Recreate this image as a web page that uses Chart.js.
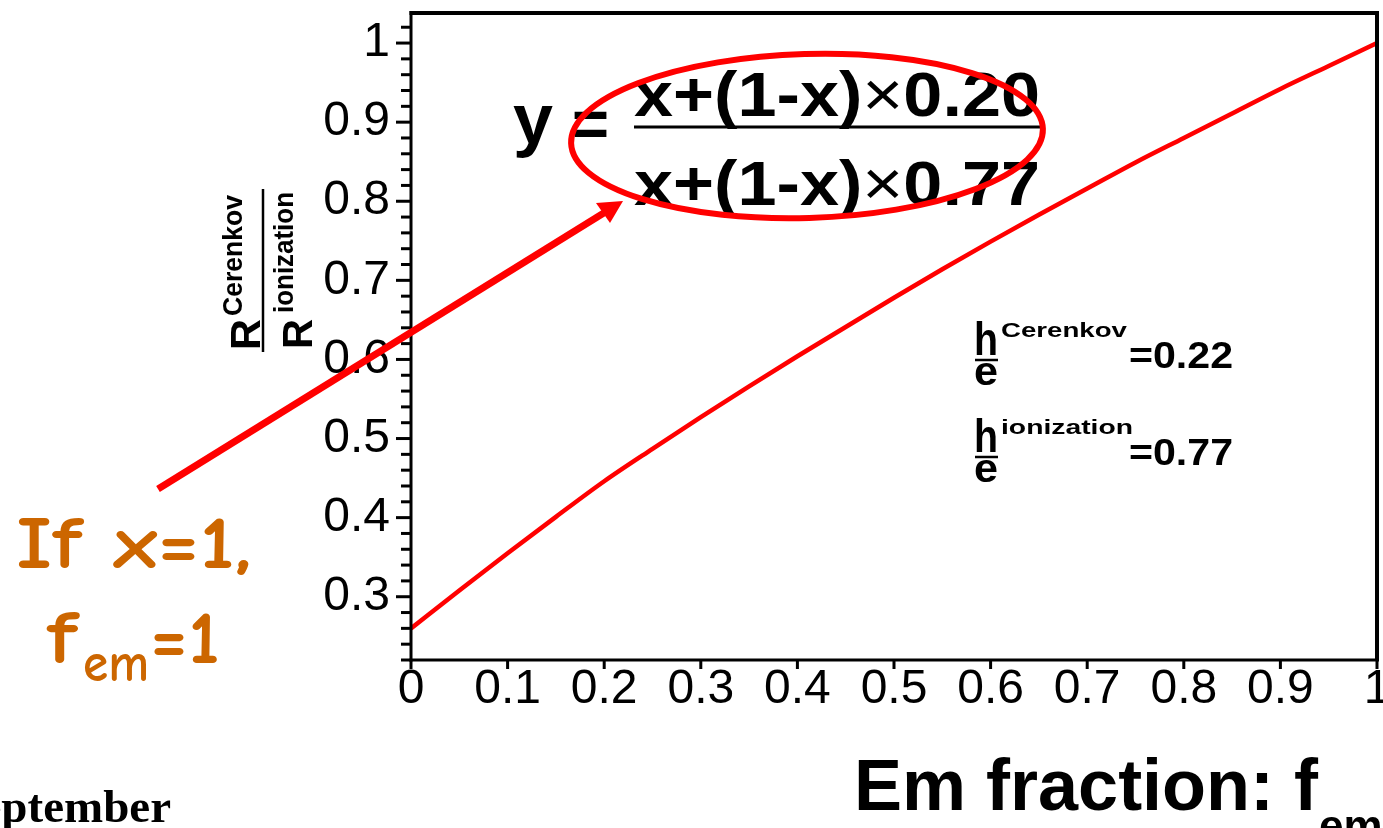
<!DOCTYPE html>
<html><head><meta charset="utf-8">
<script src="https://cdn.jsdelivr.net/npm/chart.js@4.4.1/dist/chart.umd.min.js"></script>
<style>html,body{margin:0;padding:0;background:#fff;overflow:hidden}#wrap{width:1383px;height:828px;position:relative}</style>
</head><body><div id="wrap"><canvas id="c"></canvas></div>
<script>
// ---- data ----
const emFraction    = [0, 0.05, 0.1, 0.15, 0.2, 0.25, 0.3, 0.35, 0.4, 0.45, 0.5, 0.55, 0.6, 0.65, 0.7, 0.75, 0.8, 0.85, 0.9, 0.95, 1];
const responseRatio = [0.26, 0.308, 0.355, 0.401, 0.446, 0.487, 0.527, 0.566, 0.604, 0.641, 0.678, 0.714, 0.749, 0.783, 0.816, 0.849, 0.88, 0.911, 0.942, 0.971, 1.0];
const xTickValues = [0, 0.1, 0.2, 0.3, 0.4, 0.5, 0.6, 0.7, 0.8, 0.9, 1];
const xTickLabels = ['0', '0.1', '0.2', '0.3', '0.4', '0.5', '0.6', '0.7', '0.8', '0.9', '1'];
const yTickValues = [0.3, 0.4, 0.5, 0.6, 0.7, 0.8, 0.9, 1];
const yTickLabels = ['0.3', '0.4', '0.5', '0.6', '0.7', '0.8', '0.9', '1'];
const yMin = 0.22, yMax = 1.038;

const SANS = "'Liberation Sans', Arial, sans-serif";
const SERIF = "'Liberation Serif', 'Times New Roman', serif";
const HAND = "'Comic Sans MS', 'Comic Neue', 'DejaVu Sans', sans-serif";

function runsWidth(ctx, runs) {
  let w = 0;
  for (const r of runs) { ctx.font = r.f; w += ctx.measureText(r.t).width; }
  return w;
}
function drawRuns(ctx, runs, x, y, width, color) {
  const w = runsWidth(ctx, runs);
  const sx = width ? width / w : 1;
  ctx.save();
  ctx.translate(x, y);
  ctx.scale(sx, 1);
  ctx.fillStyle = color || '#000';
  ctx.textAlign = 'left';
  ctx.textBaseline = 'alphabetic';
  let cx = 0;
  for (const r of runs) {
    ctx.font = r.f;
    ctx.fillText(r.t, cx, r.dy || 0);
    cx += ctx.measureText(r.t).width;
  }
  ctx.restore();
}
function line(ctx, x1, y1, x2, y2, lw, color) {
  ctx.beginPath(); ctx.moveTo(x1, y1); ctx.lineTo(x2, y2);
  ctx.lineWidth = lw; ctx.strokeStyle = color || '#000'; ctx.stroke();
}

const decor = {
  id: 'decor',
  afterDraw(chart) {
    const ctx = chart.ctx;
    const a = chart.chartArea;
    const xs = chart.scales.x, ys = chart.scales.y;
    ctx.save();
    ctx.lineCap = 'butt';
    // frame
    line(ctx, a.left - 1.5, a.top, a.right + 2, a.top, 4);
    line(ctx, a.right, a.top - 2, a.right, a.bottom, 4);
    line(ctx, a.left, a.top - 2, a.left, a.bottom + 1.5, 3);
    line(ctx, a.left - 1.5, a.bottom, a.right + 2, a.bottom, 3);
    // y ticks (major + minor)
    for (let k = 11; k <= 51; k++) {
      const v = k * 0.02;
      const major = yTickValues.some(t => Math.abs(t - v) < 1e-6);
      const py = ys.getPixelForValue(v);
      line(ctx, a.left - (major ? 15 : 10), py, a.left, py, 3);
    }
    // x ticks
    for (const v of xTickValues) {
      const px = xs.getPixelForValue(v);
      line(ctx, px, a.bottom, px, a.bottom + 9, 3);
    }

    // y-axis title (rotated fraction)
    ctx.save();
    ctx.translate(263, 271);
    ctx.rotate(-Math.PI / 2);
    drawRuns(ctx, [{t: 'R', f: 'bold 43px ' + SANS}], -79, -3, 31);
    drawRuns(ctx, [{t: 'Cerenkov', f: 'bold 27px ' + SANS}], -45, -21, 121);
    line(ctx, -81, 0, 82, 0, 2.5);
    drawRuns(ctx, [{t: 'R', f: 'bold 43px ' + SANS}], -78, 49, 30);
    drawRuns(ctx, [{t: 'ionization', f: 'bold 27px ' + SANS}], -42, 30, 121);
    ctx.restore();

    // x-axis title
    drawRuns(ctx, [{t: 'Em fraction: f', f: 'bold 72px ' + SANS}], 854, 810);
    ctx.font = 'bold 72px ' + SANS;
    const wx = ctx.measureText('Em fraction: f').width;
    drawRuns(ctx, [{t: 'em', f: 'bold 44px ' + SANS}], 854 + wx + 1, 841);

    // equation
    const F = 'bold 63px ' + SANS, R = '63px ' + SANS;
    drawRuns(ctx, [{t: 'y', f: 'bold 70px ' + SANS}], 513, 143, 40);
    drawRuns(ctx, [{t: '=', f: 'bold 66px ' + SANS}], 572, 147, 37);
    drawRuns(ctx, [{t: 'x+(1-x)', f: F}, {t: '\u00d7', f: R}, {t: '0.20', f: F}], 634, 116, 406);
    line(ctx, 634, 127, 1041, 127, 3);
    drawRuns(ctx, [{t: 'x+(1-x)', f: F}, {t: '\u00d7', f: R}, {t: '0.77', f: F}], 634, 205, 406);

    // red ellipse
    ctx.beginPath();
    ctx.ellipse(807, 136, 236, 82, -0.03, 0, Math.PI * 2);
    ctx.lineWidth = 6; ctx.strokeStyle = '#ff0000'; ctx.stroke();

    // red arrow
    line(ctx, 158, 489, 607, 211, 7, '#ff0000');
    ctx.beginPath();
    ctx.moveTo(623, 201); ctx.lineTo(596, 203); ctx.lineTo(610, 223); ctx.closePath();
    ctx.fillStyle = '#ff0000'; ctx.fill();

    // h/e annotations
    const blocks = [
      {sup: 'Cerenkov', val: '=0.22', top: 0, supW: 126},
      {sup: 'ionization', val: '=0.77', top: 97, supW: 132}
    ];
    for (const b of blocks) {
      const o = b.top;
      drawRuns(ctx, [{t: 'h', f: 'bold 46px ' + SANS}], 974, 355 + o, 24);
      line(ctx, 975, 360 + o, 998, 360 + o, 2.5);
      drawRuns(ctx, [{t: 'e', f: 'bold 40px ' + SANS}], 974, 385 + o, 24);
      drawRuns(ctx, [{t: b.sup, f: 'bold 20px ' + SANS}], 1001, 337 + o, b.supW);
      drawRuns(ctx, [{t: b.val, f: 'bold 37px ' + SANS}], 1129, 368 + o, 104);
    }

    // hand-written note
    const C = '#cc6600';
    drawRuns(ctx, [{t: 'If x=1,', f: 'bold 74px ' + HAND}], 16, 568, 236, C);
    drawRuns(ctx, [{t: 'f', f: 'bold 76px ' + HAND}], 47, 663, 30, C);
    drawRuns(ctx, [{t: 'em', f: 'bold 54px ' + HAND}], 83, 681, 66, C);
    drawRuns(ctx, [{t: '=1', f: 'bold 74px ' + HAND}], 150, 663, 70, C);

    // cut-off footer text
    ctx.font = 'bold 47px ' + SERIF;
    ctx.fillStyle = '#000';
    ctx.textAlign = 'right';
    ctx.textBaseline = 'alphabetic';
    ctx.fillText('September', 171, 822);
    ctx.restore();
  }
};

const points = emFraction.map((x, i) => ({x: x, y: responseRatio[i]}));

new Chart(document.getElementById('c'), {
  type: 'line',
  data: {
    datasets: [{
      data: points,
      borderColor: '#ff0000',
      borderWidth: 4.5,
      pointRadius: 0,
      fill: false,
      cubicInterpolationMode: 'monotone'
    }]
  },
  options: {
    responsive: true,
    maintainAspectRatio: false,
    animation: false,
    events: [],
    layout: {padding: {top: 13, right: 6, left: 0, bottom: 0}},
    plugins: {legend: {display: false}, tooltip: {enabled: false}, title: {display: false}},
    scales: {
      x: {
        type: 'linear', min: 0, max: 1,
        grid: {display: false, drawTicks: false, tickLength: 0},
        border: {display: false},
        afterBuildTicks: s => { s.ticks = xTickValues.map(v => ({value: v})); },
        afterFit: s => { s.height = 168; s.paddingLeft = 0; s.paddingRight = 0; },
        ticks: {
          autoSkip: false, maxRotation: 0, minRotation: 0, padding: 1,
          color: '#000', font: {family: SANS, size: 48},
          callback: (v, i) => xTickLabels[i]
        }
      },
      y: {
        type: 'linear', min: yMin, max: yMax,
        grid: {display: false, drawTicks: false, tickLength: 0},
        border: {display: false},
        afterBuildTicks: s => { s.ticks = yTickValues.map(v => ({value: v})); },
        afterFit: s => { s.width = 411; s.paddingTop = 0; s.paddingBottom = 0; },
        ticks: {
          autoSkip: false, padding: 21,
          color: '#000', font: {family: SANS, size: 48},
          callback: (v, i) => yTickLabels[i]
        }
      }
    }
  },
  plugins: [decor]
});
</script>
</body></html>
